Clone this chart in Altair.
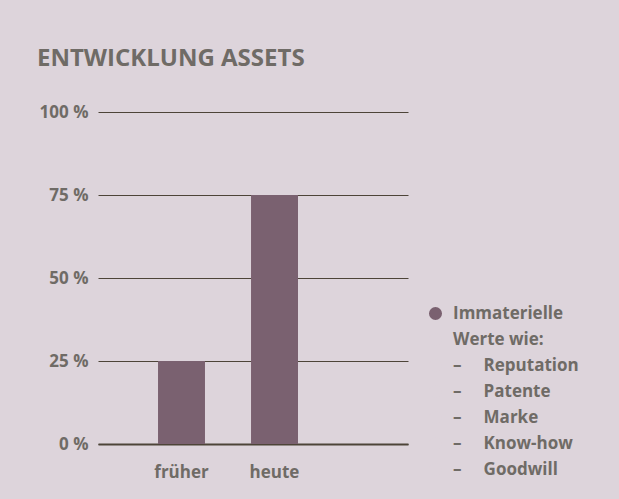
import altair as alt
import pandas as pd

categories = ["früher", "heute"]
values = [25, 75]
legend_lines = ["Immaterielle", "Werte wie:", "–     Reputation", "–     Patente",
                "–     Marke", "–     Know-how", "–     Goodwill"]
y_ticks = [0, 25, 50, 75, 100]
title_text = "ENTWICKLUNG ASSETS"

FONT = "Open Sans"
TXT = "#6f6b66"
BAR = "#7a6170"
BG = "#ddd4db"
GRID = "#4d4438"

legend_domain = [s.replace(" ", "\u00a0") for s in legend_lines]
legend_range = [BAR] + [BG] * (len(legend_domain) - 1)

df = pd.DataFrame({"Zeit": categories, "Wert": values,
                   "Serie": [legend_domain[0]] * len(categories)})

chart = alt.Chart(df).mark_bar(color=BAR).encode(
    x=alt.X("Zeit:N", sort=categories,
            scale=alt.Scale(paddingInner=0.495, paddingOuter=0.914, align=0.353),
            axis=alt.Axis(title=None, labelAngle=0, ticks=False, domain=True,
                          domainColor=GRID, domainWidth=2, labelPadding=20,
                          labelFont=FONT, labelFontSize=17, labelFontWeight="bold",
                          labelColor=TXT)),
    y=alt.Y("Wert:Q", scale=alt.Scale(domain=[0, 100], nice=False),
            axis=alt.Axis(title=None, values=y_ticks, ticks=False, domain=False,
                          grid=True, gridColor=GRID, gridWidth=1,
                          labelExpr="datum.value + ' %'", labelPadding=10,
                          labelFont=FONT, labelFontSize=17, labelFontWeight="bold",
                          labelColor=TXT)),
    color=alt.Color("Serie:N", scale=alt.Scale(domain=legend_domain, range=legend_range),
                    legend=alt.Legend(title=None, orient="none", legendX=329, legendY=193,
                                      direction="vertical",
                                      symbolType="circle", symbolSize=170,
                                      symbolStrokeWidth=0,
                                      labelFont=FONT, labelFontSize=17,
                                      labelFontWeight="bold", labelColor=TXT,
                                      labelLimit=300, labelOffset=9,
                                      rowPadding=8)),
).properties(
    width=310, height=332,
    title=alt.TitleParams(title_text, anchor="start", frame="group", dx=-61, offset=32,
                          font=FONT, fontSize=24, fontWeight="bold", color=TXT),
    background=BG,
    padding={"left": 98, "top": 112, "right": 211, "bottom": 55},
    autosize=alt.AutoSizeParams(type="none"),
).configure_view(stroke=None)

chart.save("out.html", embed_options={"renderer": "svg", "actions": False})
